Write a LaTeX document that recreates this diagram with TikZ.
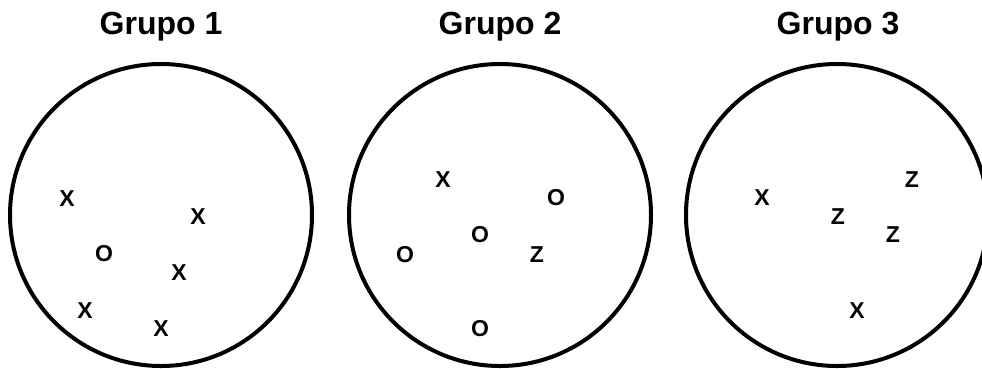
\documentclass[tikz,border=0pt]{standalone}
\usepackage{fontspec}
\setmainfont{Liberation Sans}
\usetikzlibrary{positioning}

\begin{document}
\begin{tikzpicture}[x=1pt, y=-1pt]
    \tikzset{
        grupo/.style={circle, draw, line width=4pt, minimum size=302pt, inner sep=0pt},
        titulo/.style={font=\fontsize{32}{38}\selectfont\bfseries, anchor=base, inner sep=0pt},
        elem/.style={font=\fontsize{23}{28}\selectfont\bfseries, inner sep=0pt}
    }
    \useasboundingbox (0,0) rectangle (982,368);

    \node[grupo] (g1) at (161,215) {};
    \node[grupo] (g2) at (500,215) {};
    \node[grupo] (g3) at (837,215) {};

    \node[titulo] (t1) at (161,34) {Grupo 1};
    \node[titulo] (t2) at (500,34) {Grupo 2};
    \node[titulo] (t3) at (838,34) {Grupo 3};

    % Grupo 1
    \node[elem] (g1x1) at (67,199) {X};
    \node[elem] (g1x2) at (198,217) {X};
    \node[elem] (g1o1) at (104,254) {O};
    \node[elem] (g1x3) at (179,273) {X};
    \node[elem] (g1x4) at (85,311) {X};
    \node[elem] (g1x5) at (161,329) {X};

    % Grupo 2
    \node[elem] (g2x1) at (443,180) {X};
    \node[elem] (g2o1) at (556,198) {O};
    \node[elem] (g2o2) at (480,235) {O};
    \node[elem] (g2o3) at (405,255) {O};
    \node[elem] (g2z1) at (537,255) {Z};
    \node[elem] (g2o4) at (480,329) {O};

    % Grupo 3
    \node[elem] (g3x1) at (762,198) {X};
    \node[elem] (g3z1) at (838,217) {Z};
    \node[elem] (g3z2) at (912,180) {Z};
    \node[elem] (g3z3) at (893,235) {Z};
    \node[elem] (g3x2) at (857,311) {X};
\end{tikzpicture}
\end{document}
